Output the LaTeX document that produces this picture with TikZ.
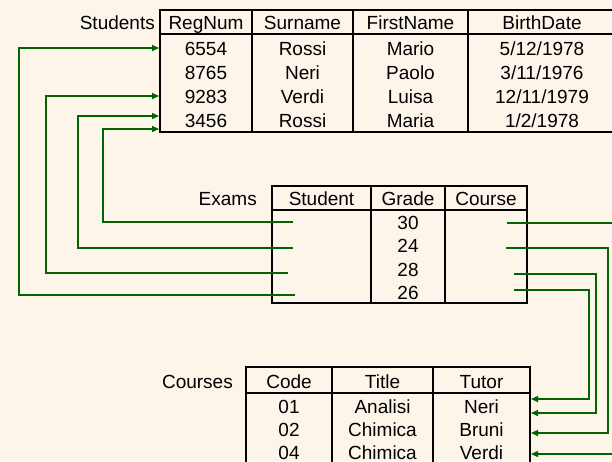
\documentclass[tikz,border=0pt]{standalone}
\usepackage{fontspec}
\setmainfont{Liberation Sans}
\usetikzlibrary{arrows.meta}
\definecolor{paper}{RGB}{253,245,233}
\definecolor{link}{RGB}{0,100,0}

\begin{document}
\begin{tikzpicture}[x=1pt,y=-1pt,
  cell/.style={inner sep=0pt, anchor=base, font=\fontsize{19}{21}\selectfont},
  tname/.style={inner sep=0pt, anchor=base east, font=\fontsize{19}{21}\selectfont},
  grid/.style={draw=black, line width=1.3pt},
  fk/.style={draw=link, line width=1.4pt, -{Triangle[length=7pt,width=6pt]}},
  fkplain/.style={draw=link, line width=1.4pt}]

\fill[paper] (0,0) rectangle (612,461);
\useasboundingbox (0,0) rectangle (612,461);
\clip (0,0) rectangle (612,461);

% ---- Students table ----
\draw[grid] (160,10) rectangle (620,132);
\draw[grid] (160,34) -- (620,34);
\foreach \cx in {252,353,468} \draw[grid] (\cx,10) -- (\cx,132);
\node[tname] (tstud) at (155,29) {Students};
\node[cell] (hs1) at (206,29) {RegNum};
\node[cell] (hs2) at (302.5,29) {Surname};
\node[cell] (hs3) at (410.5,29) {FirstName};
\node[cell] (hs4) at (542,29) {BirthDate};
\foreach \r/\yy/\a/\b/\c/\d in {1/55/6554/Rossi/Mario/5\slash 12\slash 1978,
                                2/79/8765/Neri/Paolo/3\slash 11\slash 1976,
                                3/103/9283/Verdi/Luisa/12\slash 11\slash 1979,
                                4/127/3456/Rossi/Maria/1\slash 2\slash 1978}{
  \node[cell] (s\r a) at (206,\yy) {\a};
  \node[cell] (s\r b) at (302.5,\yy) {\b};
  \node[cell] (s\r c) at (410.5,\yy) {\c};
  \node[cell] (s\r d) at (542,\yy) {\d};
}

% ---- Exams table ----
\draw[grid] (272,186) rectangle (527,303);
\draw[grid] (272,210) -- (527,210);
\foreach \cx in {371,445} \draw[grid] (\cx,186) -- (\cx,303);
\node[tname] (texam) at (257,205) {Exams};
\node[cell] (he1) at (321.5,205) {Student};
\node[cell] (he2) at (408,205) {Grade};
\node[cell] (he3) at (486,205) {Course};
\foreach \r/\yy/\g in {1/229/30, 2/252.5/24, 3/276/28, 4/299.5/26}{
  \node[cell] (e\r) at (408,\yy) {\g};
}

% ---- Courses table ----
\draw[grid] (246,367) rectangle (530,475);
\draw[grid] (246,393) -- (530,393);
\foreach \cx in {332,433} \draw[grid] (\cx,367) -- (\cx,475);
\node[tname] (tcour) at (233,388) {Courses};
\node[cell] (hc1) at (289,388) {Code};
\node[cell] (hc2) at (382.5,388) {Title};
\node[cell] (hc3) at (481.5,388) {Tutor};
\foreach \r/\yy/\a/\b/\c in {1/413/01/Analisi/Neri, 2/436.5/02/Chimica/Bruni, 3/459.5/04/Chimica/Verdi}{
  \node[cell] (c\r a) at (289,\yy) {\a};
  \node[cell] (c\r b) at (382.5,\yy) {\b};
  \node[cell] (c\r c) at (481.5,\yy) {\c};
}

% ---- link end points ----
\coordinate (xs1) at (293,222);
\coordinate (xs2) at (293,248);
\coordinate (xs3) at (288,273);
\coordinate (xs4) at (295,295);
\coordinate (st1) at (159,48);
\coordinate (st3) at (159,96);
\coordinate (st4a) at (159,116);
\coordinate (st4b) at (159,129);

\coordinate (xc1) at (507,223);
\coordinate (xc2) at (506,248);
\coordinate (xc3) at (514,274);
\coordinate (xc4) at (514,290);
\coordinate (cr1) at (531,399);
\coordinate (cr2) at (531,413);
\coordinate (cr3) at (531,433);
\coordinate (cr4) at (531,454);

% Student -> RegNum
\draw[fk] (xs1) -| (103,129) -- (st4b);
\draw[fk] (xs2) -| (78,116) -- (st4a);
\draw[fk] (xs3) -| (46,96) -- (st3);
\draw[fk] (xs4) -| (19,48) -- (st1);

% Course -> Code
\draw[fkplain] (xc1) -- (640,223);
\draw[fk] (640,454) -- (cr4);
\draw[fk] (xc2) -| (608,433) -- (cr3);
\draw[fk] (xc3) -| (596,413) -- (cr2);
\draw[fk] (xc4) -| (589,399) -- (cr1);
\end{tikzpicture}
\end{document}
